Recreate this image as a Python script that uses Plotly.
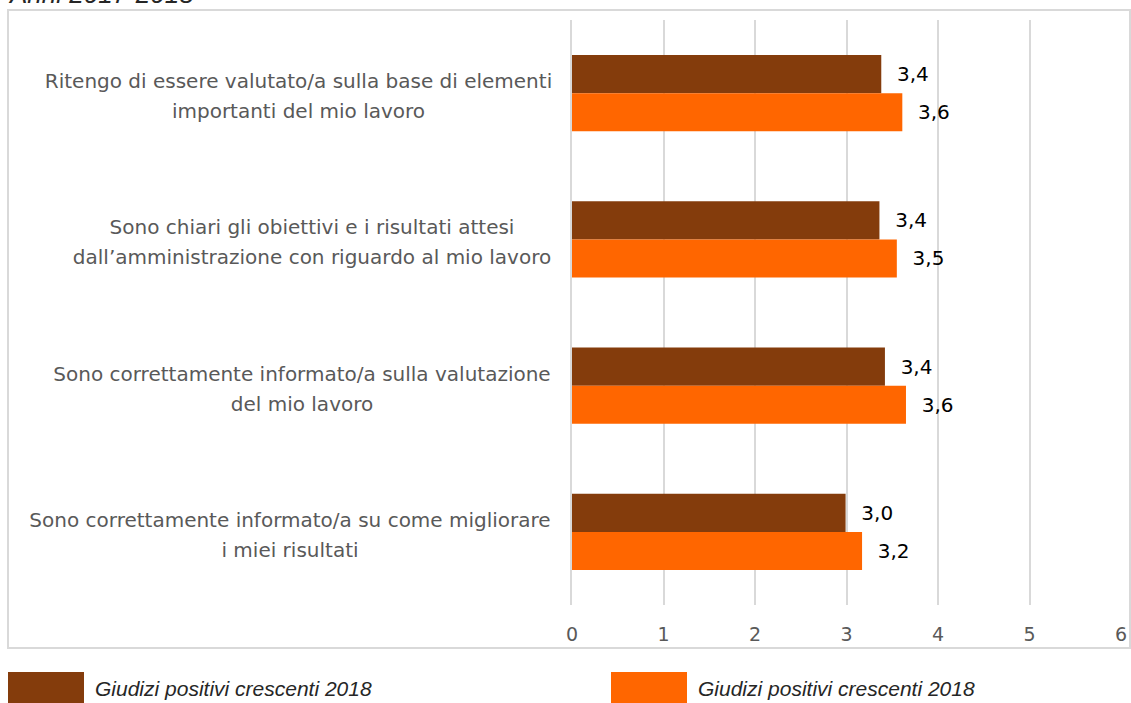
import plotly.graph_objects as go

# data
categories = [
    "Ritengo di essere valutato/a sulla base di elementi|importanti del mio lavoro",
    "Sono chiari gli obiettivi e i risultati attesi|dall\u2019amministrazione con riguardo al mio lavoro",
    "Sono correttamente informato/a sulla valutazione|del mio lavoro",
    "Sono correttamente informato/a su come migliorare|i miei risultati",
]
series_names = ["Giudizi positivi crescenti 2018", "Giudizi positivi crescenti 2018"]
values_a = [3.38, 3.36, 3.42, 2.99]
values_b = [3.61, 3.55, 3.65, 3.17]
colors = ["#843C0C", "#FF6600"]
title = "Anni 2017-2018"

W, H = 1131, 703
L, R, T, B = 572, 1121, 20, 605  # plot area in pixels
label_block_w = [511, 484, 504, 528]  # width of each wrapped label block (px)


def px(x):
    return (x - L) / (R - L)


def py(y):
    return (B - y) / (B - T)


fig = go.Figure()
for name, vals, col in zip(series_names, [values_a, values_b], colors):
    fig.add_trace(go.Bar(
        y=categories, x=vals, orientation="h", name=name,
        marker=dict(color=col, line=dict(width=0)),
        texttemplate="\u00a0\u00a0%{x:.1f}", textposition="outside",
        textfont=dict(family="DejaVu Sans", size=20, color="#000000"),
        cliponaxis=False, showlegend=False,
    ))

# category labels: block right-aligned, lines centred, Excel-like line spacing
for c, bw in zip(categories, label_block_w):
    for i, line in enumerate(c.split("|")):
        fig.add_annotation(
            x=0, xref="paper", y=c, yref="y", text=line, showarrow=False,
            xanchor="right", align="center", xshift=-16, yshift=12 - 30 * i,
            width=bw, font=dict(family="DejaVu Sans", size=20, color="#595959"),
        )

# outer frame
fig.add_shape(type="rect", xref="paper", yref="paper",
              x0=px(8), x1=px(1130), y0=py(648), y1=py(10),
              line=dict(color="#D9D9D9", width=2), layer="below")

# title (clipped at the top as in the reference)
fig.add_annotation(x=px(6), y=py(11), xref="paper", yref="paper",
                   xanchor="left", yanchor="bottom", showarrow=False,
                   text="<i>" + title + "</i>",
                   font=dict(family="Liberation Sans", size=26, color="#262626"))

# legend drawn by hand (large swatches)
for x0, name, col in [(8, series_names[0], colors[0]), (611, series_names[1], colors[1])]:
    fig.add_shape(type="rect", xref="paper", yref="paper",
                  x0=px(x0), x1=px(x0 + 76), y0=py(712), y1=py(672),
                  fillcolor=col, line=dict(width=0))
    fig.add_annotation(x=px(x0 + 85), y=py(688), xref="paper", yref="paper",
                       xanchor="left", yanchor="middle", showarrow=False,
                       text="<i>" + name + "</i>",
                       font=dict(family="Liberation Sans", size=21, color="#262626"))

fig.update_layout(
    width=W, height=H,
    margin=dict(l=L, r=W - R, t=T, b=H - B, pad=0, autoexpand=False),
    paper_bgcolor="white", plot_bgcolor="white",
    barmode="group", bargap=0.48, bargroupgap=0,
    separators=",.",
    showlegend=False,
    xaxis=dict(range=[0, 6], dtick=1, showgrid=True, gridcolor="#D9D9D9", gridwidth=2,
               zeroline=False, showline=False, ticks="outside", ticklen=12,
               tickcolor="rgba(0,0,0,0)", automargin=False,
               tickfont=dict(family="DejaVu Sans", size=19, color="#595959")),
    yaxis=dict(autorange="reversed", showticklabels=False, showgrid=False,
               zeroline=False, showline=True, linecolor="#D9D9D9", linewidth=2,
               automargin=False),
)

fig.write_html("out.html", config={"displayModeBar": False},
               post_script="document.body.style.margin='0';")
